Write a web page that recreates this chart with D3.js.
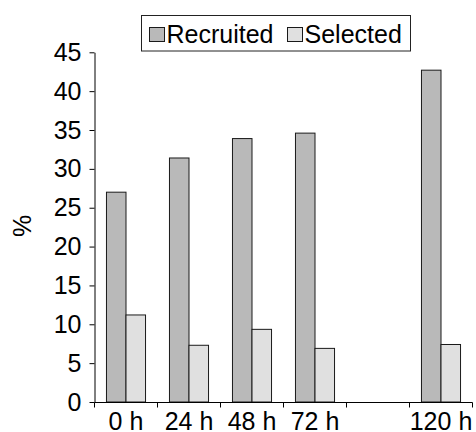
<!DOCTYPE html>
<html>
<head>
<meta charset="utf-8">
<script src="https://cdn.jsdelivr.net/npm/d3@7"></script>
<style>
  html, body { margin: 0; padding: 0; background: #fff; }
  svg { display: block; font-family: "Liberation Sans", Arial, Helvetica, sans-serif; }
</style>
</head>
<body>
<svg id="chart" width="476" height="432"></svg>
<script>
const categories = ["0 h", "24 h", "48 h", "72 h", "96 h", "120 h"];
const xTickLabels = ["0 h", "24 h", "48 h", "72 h", "", "120 h"];
const seriesNames = ["Recruited", "Selected"];
const recruited = [27.0, 31.4, 33.9, 34.6, null, 42.7];
const selected = [11.2, 7.3, 9.35, 6.9, null, 7.4];
const yTicks = [0, 5, 10, 15, 20, 25, 30, 35, 40, 45];
const yLabel = "%";

const colors = ["#b9b9b9", "#e0e0e0"];
const svg = d3.select("#chart");

const x = d3.scaleBand().domain(categories).range([94.5, 472.5]).paddingInner(0).paddingOuter(0);
const y = d3.scaleLinear().domain([0, 45]).range([402, 52.3]);
const groupFrac = 0.62;
const xs = d3.scaleBand().domain(seriesNames)
  .range([(1 - groupFrac) / 2 * x.bandwidth(), (1 + groupFrac) / 2 * x.bandwidth()]);

const series = [recruited, selected];

// bars
seriesNames.forEach((name, si) => {
  const data = categories.map((c, i) => ({ c, v: series[si][i] })).filter(d => d.v != null);
  svg.append("g").selectAll("rect").data(data).join("rect")
    .attr("x", d => x(d.c) + xs(name))
    .attr("y", d => y(d.v))
    .attr("width", xs.bandwidth())
    .attr("height", d => y(0) - y(d.v))
    .attr("fill", colors[si])
    .attr("stroke", "#1a1a1a")
    .attr("stroke-width", 1);
});

// y axis
const yAxis = svg.append("g").attr("transform", "translate(94.5,0)")
  .call(d3.axisLeft(y).tickValues(yTicks).tickSize(5).tickSizeOuter(0).tickPadding(8));
yAxis.select(".domain").attr("stroke", "#000");
yAxis.selectAll(".tick line").attr("stroke", "#000");
yAxis.selectAll(".tick text").attr("font-size", 25).attr("fill", "#000")
  .attr("font-family", "'Liberation Sans', Arial, sans-serif");

// x axis (ticks at band boundaries)
const xg = svg.append("g").attr("transform", "translate(0,402.5)");
const bounds = categories.map(c => x(c)).concat([x(categories[categories.length - 1]) + x.bandwidth()]);
xg.append("line").attr("x1", bounds[0]).attr("x2", bounds[bounds.length - 1])
  .attr("y1", 0).attr("y2", 0).attr("stroke", "#000");
xg.selectAll("line.tk").data(bounds).join("line").attr("class", "tk")
  .attr("x1", d => d).attr("x2", d => d).attr("y1", 0).attr("y2", 5).attr("stroke", "#000");
xg.selectAll("text").data(categories).join("text")
  .attr("x", (c) => x(c) + x.bandwidth() / 2)
  .attr("y", 27)
  .attr("text-anchor", "middle")
  .attr("font-size", 25)
  .attr("fill", "#000")
  .text((c, i) => xTickLabels[i]);

// y label
svg.append("text")
  .attr("transform", "translate(31,226) rotate(-90)")
  .attr("text-anchor", "middle")
  .attr("font-size", 25)
  .attr("fill", "#000")
  .text(yLabel);

// legend
const lg = svg.append("g");
lg.append("rect").attr("x", 141.5).attr("y", 15.5).attr("width", 269).attr("height", 35.5)
  .attr("fill", "#fff").attr("stroke", "#222").attr("stroke-width", 1);
const legendX = [149.5, 287.5];
seriesNames.forEach((name, i) => {
  lg.append("rect").attr("x", legendX[i]).attr("y", 27.5).attr("width", 15).attr("height", 14)
    .attr("fill", colors[i]).attr("stroke", "#1a1a1a");
  lg.append("text").attr("x", legendX[i] + 17).attr("y", 43)
    .attr("font-size", 25).attr("fill", "#000").text(name);
});
</script>
</body>
</html>
